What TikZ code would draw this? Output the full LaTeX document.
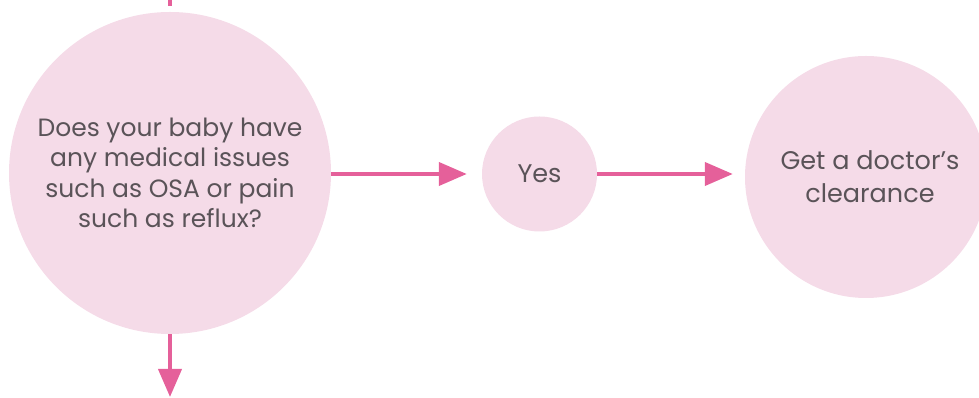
\documentclass[tikz,border=0pt]{standalone}
\usepackage{fontspec}
\setmainfont{Poppins}
\usetikzlibrary{arrows.meta}
\definecolor{bubble}{HTML}{F5DBE8}
\definecolor{flow}{HTML}{E5609A}
\definecolor{ink}{HTML}{5A5358}
\begin{document}
\begin{tikzpicture}[x=1pt,y=1pt,
  bubblenode/.style={circle,fill=bubble,draw=none,inner sep=0pt,text=ink,align=center},
  flowline/.style={draw=flow,line width=4pt},
  flowarrow/.style={flowline,-{Triangle[length=28pt,width=23pt]}}]
  \useasboundingbox (0,0) rectangle (979,398);
  \clip (0,0) rectangle (979,398);
  % question bubble
  \node[bubblenode,minimum size=322pt,font=\fontsize{25}{30.5}\selectfont] (q) at (170,225)
    {Does your baby have\\any medical issues\\such as OSA or pain\\such as reflux?};
  % answer bubble
  \node[bubblenode,minimum size=115pt,font=\fontsize{25.5}{30}\selectfont] (yes) at (539.5,224) {Yes};
  % outcome bubble
  \node[bubblenode,minimum size=242pt,font=\fontsize{25.5}{33}\selectfont] (doc) at (866,221)
    {\hspace*{8pt}Get a doctor’s\\\hspace*{8pt}clearance};
  \coordinate (in) at (170,398);
  \coordinate (out) at (170,1);
  \draw[flowline,shorten >=6pt] (in) -- (q.north);
  \draw[flowarrow] (q.south) -- (out);
  \draw[flowarrow,shorten >=15pt] (q.east |- yes.west) -- (yes.west);
  \draw[flowarrow,shorten >=12pt] (yes.east) -- (doc.west |- yes.east);
\end{tikzpicture}
\end{document}
